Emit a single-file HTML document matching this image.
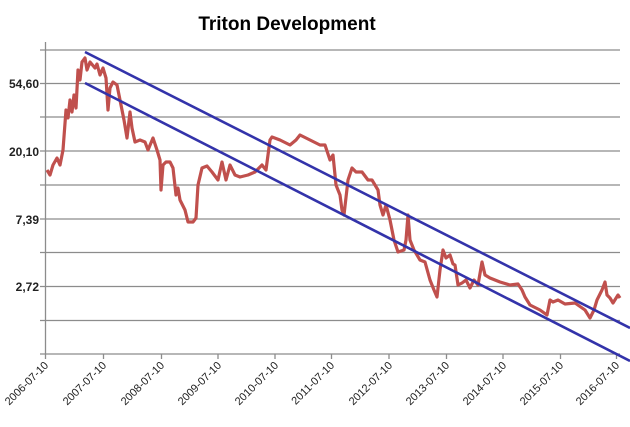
<!DOCTYPE html>
<html><head><meta charset="utf-8"><style>
html,body{margin:0;padding:0;background:#fff;}
svg{display:block;font-family:"Liberation Sans",Arial,sans-serif;}
</style></head><body>
<svg width="630" height="427" viewBox="0 0 630 427" xmlns="http://www.w3.org/2000/svg">
<rect width="630" height="427" fill="#fff"/>
<text x="287" y="30" text-anchor="middle" font-size="19" font-weight="bold" fill="#000">Triton Development</text>
<g stroke="#8c8c8c" stroke-width="1.3">
<line x1="40" y1="50" x2="620" y2="50"/>
<line x1="40" y1="83.5" x2="620" y2="83.5"/>
<line x1="40" y1="117" x2="620" y2="117"/>
<line x1="40" y1="151" x2="620" y2="151"/>
<line x1="40" y1="185" x2="620" y2="185"/>
<line x1="40" y1="219" x2="620" y2="219"/>
<line x1="40" y1="252.5" x2="620" y2="252.5"/>
<line x1="40" y1="286.5" x2="620" y2="286.5"/>
<line x1="40" y1="320.5" x2="620" y2="320.5"/>
<line x1="40" y1="354" x2="620" y2="354"/>
<line x1="45.5" y1="42" x2="45.5" y2="354"/>
</g>
<g stroke="#8c8c8c" stroke-width="1.3">
<line x1="45.5" y1="354" x2="45.5" y2="359"/><line x1="103.5" y1="354" x2="103.5" y2="359"/>
<line x1="161.5" y1="354" x2="161.5" y2="359"/><line x1="218" y1="354" x2="218" y2="359"/>
<line x1="275" y1="354" x2="275" y2="359"/><line x1="331.5" y1="354" x2="331.5" y2="359"/>
<line x1="389" y1="354" x2="389" y2="359"/><line x1="446.5" y1="354" x2="446.5" y2="359"/>
<line x1="503" y1="354" x2="503" y2="359"/><line x1="560.5" y1="354" x2="560.5" y2="359"/>
<line x1="616.5" y1="354" x2="616.5" y2="359"/>
</g>
<g font-size="12" font-weight="bold" fill="#222" text-anchor="end">
<text x="39" y="88">54,60</text>
<text x="39" y="156">20,10</text>
<text x="39" y="224">7,39</text>
<text x="39" y="291">2,72</text>
</g>
<g font-size="11" fill="#222" text-anchor="end">
<text transform="translate(49,366) rotate(-45)">2006-07-10</text>
<text transform="translate(107,366) rotate(-45)">2007-07-10</text>
<text transform="translate(165,366) rotate(-45)">2008-07-10</text>
<text transform="translate(222,366) rotate(-45)">2009-07-10</text>
<text transform="translate(279,366) rotate(-45)">2010-07-10</text>
<text transform="translate(335,366) rotate(-45)">2011-07-10</text>
<text transform="translate(393,366) rotate(-45)">2012-07-10</text>
<text transform="translate(450,366) rotate(-45)">2013-07-10</text>
<text transform="translate(507,366) rotate(-45)">2014-07-10</text>
<text transform="translate(564,366) rotate(-45)">2015-07-10</text>
<text transform="translate(620,366) rotate(-45)">2016-07-10</text>
</g>
<polyline fill="none" stroke="#c0504d" stroke-width="3.2" stroke-linejoin="round" points="47,170 50,175 53,165 57,158 60,165 63,150 66,110 68,118 70,100 72,112 74,95 76,108 78,70 80,80 82,62 85,58 87,70 90,62 95,68 97,64 100,75 103,68 106,78 108,110 110,88 113,82 117,85 120,100 124,120 127,138 130,112 132,128 135,142 140,140 145,142 148,150 153,138 157,150 160,160 161,190 163,165 166,162 170,162 173,168 176,195 178,188 180,200 185,210 188,222 193,222 196,218 198,185 202,168 207,166 212,172 218,180 222,162 226,180 230,165 235,175 240,177 248,175 255,172 262,165 266,170 270,140 272,137 280,140 290,145 296,140 300,135 310,140 320,145 325,145 330,160 333,155 336,185 340,195 342,210 344,215 348,180 352,168 356,172 362,172 368,180 372,180 378,190 380,205 383,215 386,205 390,220 394,240 398,252 404,250 406,240 408,215 410,240 414,250 420,260 425,262 430,280 434,290 437,297 440,270 443,250 446,258 450,255 453,264 455,265 458,285 462,283 466,280 470,288 474,280 478,285 482,262 485,275 490,278 500,282 510,285 518,284 522,290 525,297 530,305 540,310 547,315 550,300 553,302 558,300 565,304 575,303 585,310 590,318 594,310 597,300 602,290 605,282 607,295 610,298 613,303 618,295 620,298"/>
<g stroke="#3333aa" stroke-width="2.6">
<line x1="85" y1="52" x2="630" y2="328"/>
<line x1="85" y1="83" x2="630" y2="361"/>
</g>
</svg>
</body></html>
